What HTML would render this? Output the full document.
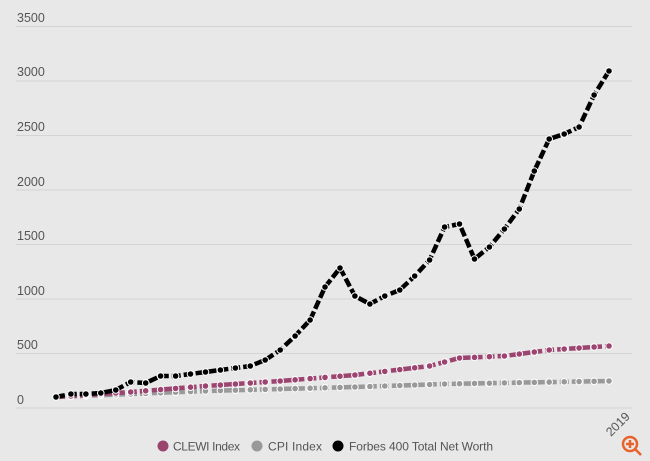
<!DOCTYPE html>
<html><head><meta charset="utf-8"><style>
html,body{margin:0;padding:0;background:#e8e8e8;}
svg{display:block;font-family:"Liberation Sans",sans-serif;}
</style></head><body>
<svg id="s" width="650" height="461" viewBox="0 0 650 461">
<rect width="650" height="461" fill="#e8e8e8"/>
<g stroke="#d4d4d4" stroke-width="1">
<line x1="16" x2="632" y1="26.5" y2="26.5"/><line x1="16" x2="632" y1="81" y2="81"/>
<line x1="16" x2="632" y1="135.5" y2="135.5"/><line x1="16" x2="632" y1="190" y2="190"/>
<line x1="16" x2="632" y1="244.5" y2="244.5"/><line x1="16" x2="632" y1="299" y2="299"/>
<line x1="16" x2="632" y1="353.5" y2="353.5"/><line x1="16" x2="632" y1="408" y2="408"/>
</g>
<g fill="#555" font-size="12.5">
<text x="17" y="22">3500</text><text x="17" y="76">3000</text><text x="17" y="131">2500</text>
<text x="17" y="186">2000</text><text x="17" y="240">1500</text><text x="17" y="295">1000</text>
<text x="17" y="349">500</text><text x="17" y="404">0</text>
</g>
<g id="series"></g>
<text x="0" y="0" font-size="12.5" fill="#555" transform="translate(611,437) rotate(-45)">2019</text>
<g font-size="12" fill="#555">
<circle cx="163" cy="446" r="5.5" fill="#9c4470"/><text x="173" y="450.5" textLength="67">CLEWI Index</text>
<circle cx="257" cy="446" r="5.5" fill="#999"/><text x="268" y="450.5" textLength="54">CPI Index</text>
<circle cx="338" cy="446" r="5.5" fill="#000"/><text x="349" y="450.5" textLength="144">Forbes 400 Total Net Worth</text>
</g>
<g stroke="#e8622c" stroke-width="2.5" fill="none"><circle cx="630" cy="444" r="7"/><line x1="635" y1="449" x2="641" y2="455"/><line x1="626" y1="444" x2="634" y2="444"/><line x1="630" y1="440" x2="630" y2="448"/></g>
</svg>
<script>
var blk=[397,394,394,393,390,382,383,376,376,374,372,370,368,366,360,350,336,320,287,268,296,304,296,290,276,260,227,224,259,247,229,209,171,139,134,127,95,71];
var cl=[],cp=[];
var ck=[[0,397],[5,392],[10,386],[15,381],[20,375],[25,366],[27,358],[30,356],[33,350],[37,346]];
function interp(k,i){for(var j=0;j<k.length-1;j++){if(i>=k[j][0]&&i<=k[j+1][0]){var t=(i-k[j][0])/(k[j+1][0]-k[j][0]);return k[j][1]+t*(k[j+1][1]-k[j][1]);}}return k[k.length-1][1];}
var pk=[[0,397],[10,391],[20,387],[26,384],[37,381]];
for(var i=0;i<38;i++){cl.push(interp(ck,i));cp.push(interp(pk,i));}
var g=document.getElementById('series'),h='';
function ser(a,c){var p='';var pts='';for(var i=0;i<a.length;i++){var x=56+i*(553/37);p+=(i?'L':'M')+x.toFixed(1)+' '+a[i];pts+='<circle cx="'+x.toFixed(1)+'" cy="'+a[i]+'" r="3.3" fill="'+c+'" stroke="#fff" stroke-width="1"/>';}
h+='<path d="'+p+'" fill="none" stroke="'+c+'" stroke-width="4.5" stroke-dasharray="9 3"/>'+pts;}
ser(cp,'#999');ser(cl,'#9c4470');ser(blk,'#000');
g.innerHTML=h;
</script>
</body></html>
